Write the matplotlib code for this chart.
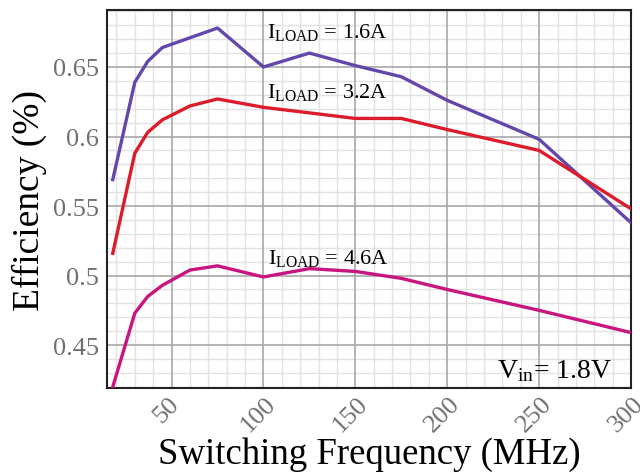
import matplotlib
matplotlib.use("Agg")
import matplotlib.pyplot as plt
from matplotlib.ticker import MultipleLocator
import matplotlib.transforms as mtransforms

plt.rcParams['font.family'] = ['Liberation Serif', 'DejaVu Serif']
plt.rcParams['mathtext.fontset'] = 'custom'
plt.rcParams['mathtext.rm'] = 'Liberation Serif'
plt.rcParams['mathtext.it'] = 'Liberation Serif:italic'

freq = [18, 30, 37, 45, 60, 75, 100, 125, 150, 175, 200, 250, 300]
eff_1p6 = [0.569, 0.639, 0.654, 0.664, 0.671, 0.678, 0.650, 0.660, 0.651, 0.643, 0.626, 0.598, 0.538]
eff_3p2 = [0.516, 0.588, 0.603, 0.612, 0.622, 0.627, 0.621, 0.617, 0.613, 0.613, 0.605, 0.590, 0.548]
eff_4p6 = [0.420, 0.473, 0.485, 0.493, 0.504, 0.507, 0.499, 0.505, 0.503, 0.498, 0.490, 0.475, 0.459]

xticks = [50, 100, 150, 200, 250, 300]
yticks = [0.45, 0.5, 0.55, 0.6, 0.65]
ytick_labels = ['0.45', '0.5', '0.55', '0.6', '0.65']

fig = plt.figure(figsize=(6.4, 4.77), dpi=100)
ax = fig.add_axes([0.167, 0.184, 0.819, 0.793])

ax.plot(freq, eff_1p6, color='#6347aa', lw=2.4, zorder=3)
ax.plot(freq, eff_3p2, color='#dc1b2b', lw=2.4, zorder=3)
ax.plot(freq, eff_4p6, color='#c8157f', lw=2.4, zorder=3)

ax.set_xlim(14.8, 300)
ax.set_ylim(0.419, 0.691)
ax.set_xticks(xticks)
ax.set_xticklabels([str(v) for v in xticks])
ax.set_yticks(yticks)
ax.set_yticklabels(ytick_labels)
ax.xaxis.set_minor_locator(MultipleLocator(10))
ax.yaxis.set_minor_locator(MultipleLocator(0.01))
ax.grid(which='minor', color='#e2e2e2', lw=1.0)
ax.set_axisbelow(True)
for xv in xticks:
    ax.axvline(xv, color='#a8a8a8', lw=1.2, zorder=1)
for yv in yticks:
    ax.axhline(yv, color='#a8a8a8', lw=1.2, zorder=1)

ax.tick_params(which='both', length=0)
ax.tick_params(axis='y', labelsize=19, labelcolor='#707070', pad=6)
ax.tick_params(axis='x', labelsize=19, labelcolor='#707070', pad=3)
for lab in ax.get_xticklabels():
    lab.set_rotation(45)
    lab.set_ha('center')
    lab.set_transform(lab.get_transform() + mtransforms.ScaledTranslation(-5/100, 0, fig.dpi_scale_trans))

for s in ax.spines.values():
    s.set_color('#222222')
    s.set_linewidth(1.5)

ax.set_xlabel('Switching Frequency (MHz)', fontsize=26.5, labelpad=0)
ax.set_ylabel('Efficiency (%)', fontsize=27, labelpad=4)

ax.text(102, 0.6713, r'I$_{\mathrm{LOAD}}$ = 1.6A', fontsize=16, va='baseline', ha='left')
ax.text(102, 0.6287, r'I$_{\mathrm{LOAD}}$ = 3.2A', fontsize=16, va='baseline', ha='left')
ax.text(102.4, 0.5094, r'I$_{\mathrm{LOAD}}$ = 4.6A', fontsize=16, va='baseline', ha='left')
ax.text(227, 0.427, r'V$_{\mathrm{in}}$= 1.8V', fontsize=20, va='baseline', ha='left')

fig.savefig('out.png', dpi=100)
